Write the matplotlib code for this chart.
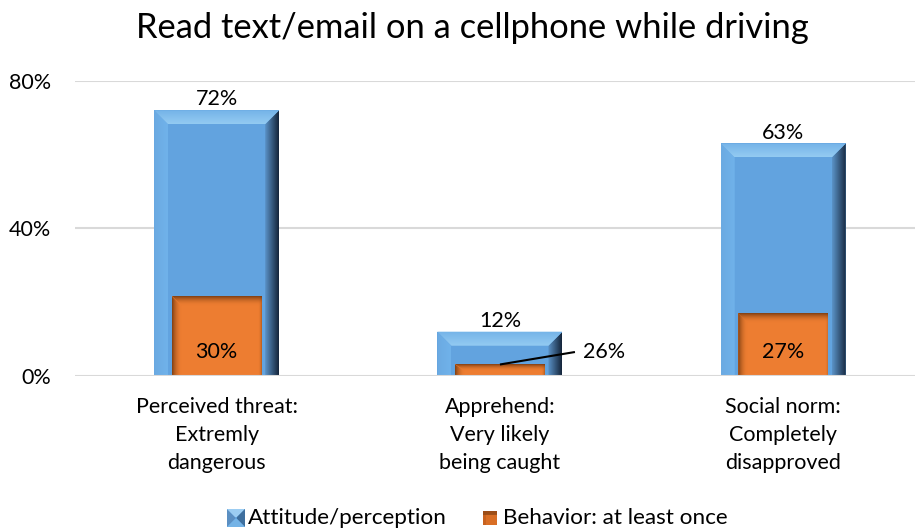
import matplotlib
matplotlib.use("Agg")
import matplotlib.pyplot as plt
import numpy as np
from matplotlib.patches import Polygon, Rectangle
from matplotlib.colors import to_rgba

# ---- data ----
categories = ["Perceived threat:\nExtremly\ndangerous",
              "Apprehend:\nVery likely\nbeing caught",
              "Social norm:\nCompletely\ndisapproved"]
attitude = [72, 12, 63]          # % attitude/perception
behavior = [30, 26, 27]          # % behavior among those (share of the attitude bar)
yticks = [0, 40, 80]
ytick_labels = ["0%", "40%", "80%"]
series_names = ["Attitude/perception", "Behavior: at least once"]
title = "Read text/email on a cellphone while driving"

plt.rcParams['font.family'] = ['Lato', 'DejaVu Sans']

W, H = 915, 531
fig = plt.figure(figsize=(W / 100, H / 100), dpi=100)
fig.patch.set_facecolor("white")

# plot area in pixels
left_px, right_px, bottom_px, top_px = 75, 915, 376, 80.7
cat_px = 283.3
ax = fig.add_axes([left_px / W, (H - bottom_px) / H,
                   (right_px - left_px) / W, (bottom_px - top_px) / H])
xmin, xmax = -0.5, -0.5 + (right_px - left_px) / cat_px
ymin, ymax = 0, 80

px_x = (xmax - xmin) / (right_px - left_px)
px_y = (ymax - ymin) / (bottom_px - top_px)


def grad_fill(a, poly_pts, x0, x1, y0, y1, c0, c1, horizontal, z):
    """Linear gradient from c0 to c1 clipped to a polygon."""
    n = 64
    t = np.linspace(0, 1, n)
    c0 = np.array(to_rgba(c0))
    c1 = np.array(to_rgba(c1))
    cols = c0[None, :] * (1 - t[:, None]) + c1[None, :] * t[:, None]
    if horizontal:
        img = cols[None, :, :]
        origin = "upper"
    else:
        img = cols[:, None, :]
        origin = "lower"
    im = a.imshow(img, extent=[x0, x1, y0, y1], origin=origin,
                  aspect="auto", zorder=z, interpolation="bilinear")
    clip = Polygon(poly_pts, closed=True, transform=a.transData,
                   facecolor="none", edgecolor="none")
    a.add_patch(clip)
    im.set_clip_path(clip)
    return im


def blue_bevel(a, x0, x1, y0, y1, bx, by, z=2):
    # body
    a.add_patch(Rectangle((x0, y0), x1 - x0, y1 - y0, facecolor="#62A3DF",
                          edgecolor="none", zorder=z))
    # left bevel, slightly lighter than the body
    grad_fill(a, [(x0, y0), (x0, y1), (x0 + bx, y1 - by), (x0 + bx, y0)],
              x0, x0 + bx, y0, y1, "#6BAAE2", "#70B2EA", True, z + 0.15)
    # right bevel: darkens towards the outer edge
    grad_fill(a, [(x1, y0), (x1, y1), (x1 - bx, y1 - by), (x1 - bx, y0)],
              x1 - bx, x1, y0, y1, "#5B93C8", "#14243A", True, z + 0.2)
    # top bevel: light
    grad_fill(a, [(x0, y1), (x1, y1), (x1 - bx, y1 - by), (x0 + bx, y1 - by)],
              x0, x1, y1 - by, y1, "#94CBF2", "#74B3E8", False, z + 0.3)


def orange_inset(a, x0, x1, y0, y1, sx, sy, z=3):
    a.add_patch(Rectangle((x0, y0), x1 - x0, y1 - y0, facecolor="#ED7D31",
                          edgecolor="none", zorder=z))
    sy_eff = min(sy, (y1 - y0) * 0.6)
    # inner shadow along the left and top edges
    grad_fill(a, [(x0, y0), (x0, y1), (x0 + sx, y1 - sy_eff), (x0 + sx, y0)],
              x0, x0 + sx, y0, y1, (0.45, 0.22, 0.06, 0.9), (0.93, 0.49, 0.19, 0.0),
              True, z + 0.1)
    grad_fill(a, [(x0, y1), (x1, y1), (x1, y1 - sy_eff), (x0 + sx, y1 - sy_eff)],
              x0, x1, y1 - sy_eff, y1, (0.93, 0.49, 0.19, 0.0), (0.45, 0.22, 0.06, 0.9),
              False, z + 0.2)
    # thin shade on the right edge
    rx = sx * 0.35
    grad_fill(a, [(x1 - rx, y0), (x1 - rx, y1), (x1, y1), (x1, y0)],
              x1 - rx, x1, y0, y1, (0.93, 0.49, 0.19, 0.0), (0.55, 0.28, 0.08, 0.6),
              True, z + 0.15)


# gridlines
for yt in yticks:
    ax.axhline(yt, color="#D9D9D9", lw=1.5, zorder=5 if yt == 0 else 1)

blue_w = 125 / cat_px
orange_w = 90 / cat_px
bx, by = 14 * px_x, 14 * px_y
x = np.arange(len(categories))

# bars (registered with the axes as bar containers, then styled)
blue_bars = ax.bar(x, attitude, width=blue_w, color="none", zorder=2)
orange_h = [a_ * b_ / 100 for a_, b_ in zip(attitude, behavior)]
orange_bars = ax.bar(x, orange_h, width=orange_w, color="none", zorder=3)

for rect in blue_bars:
    x0, y0 = rect.get_x(), rect.get_y()
    blue_bevel(ax, x0, x0 + rect.get_width(), y0, y0 + rect.get_height(), bx, by)
for rect in orange_bars:
    x0, y0 = rect.get_x(), rect.get_y()
    orange_inset(ax, x0, x0 + rect.get_width(), y0, y0 + rect.get_height(),
                 10 * px_x, 10 * px_y)

# value labels
lab_fs = 15.5
for xi, v in zip(x, attitude):
    ax.text(xi, v + 0.2, f"{v}%", ha="center", va="bottom", fontsize=lab_fs,
            color="black", zorder=10)
for xi, v, h in zip(x, behavior, orange_h):
    if h > 10:
        ax.text(xi, 6.5, f"{v}%", ha="center", va="center", fontsize=lab_fs,
                color="black", zorder=10)
    else:
        lx, ly = xi + 75 * px_x, 6.5
        ax.plot([xi, lx], [h, ly], color="black", lw=1.5, zorder=10,
                solid_capstyle="butt")
        ax.text(lx + 8 * px_x, ly, f"{v}%", ha="left", va="center",
                fontsize=lab_fs, color="black", zorder=10)

ax.set_xlim(xmin, xmax)
ax.set_ylim(ymin, ymax)
ax.set_yticks(yticks)
ax.set_yticklabels(ytick_labels, fontsize=15.5)
ax.set_xticks(x)
ax.set_xticklabels(categories, fontsize=15.5, linespacing=1.5, va="top")
ax.tick_params(axis="both", length=0)
ax.tick_params(axis="y", pad=17)
ax.tick_params(axis="x", pad=15)
for s in ax.spines.values():
    s.set_visible(False)
ax.set_facecolor("white")

fig.text(472 / W, 1 - 28 / H, title, ha="center", va="center", fontsize=24.8)

# legend
def legend_icon(px0, py0, size, kind):
    ia = fig.add_axes([px0 / W, 1 - (py0 + size) / H, size / W, size / H])
    ia.set_xlim(0, 1)
    ia.set_ylim(0, 1)
    ia.axis("off")
    if kind == "blue":
        b = 0.45
        ia.add_patch(Rectangle((0, 0), 1, 1, facecolor="#62A3DF", edgecolor="none"))
        ia.add_patch(Polygon([(0, 0), (0, 1), (b, 1 - b), (b, b)], facecolor="#5B8FC2", edgecolor="none"))
        ia.add_patch(Polygon([(0, 1), (1, 1), (1 - b, 1 - b), (b, 1 - b)], facecolor="#9CCDF2", edgecolor="none"))
        ia.add_patch(Polygon([(1, 1), (1, 0), (1 - b, b), (1 - b, 1 - b)], facecolor="#3E6F9E", edgecolor="none"))
        ia.add_patch(Polygon([(0, 0), (1, 0), (1 - b, b), (b, b)], facecolor="#74B3E6", edgecolor="none"))
    else:
        ia.add_patch(Rectangle((0, 0), 1, 1, facecolor="#C8621F", edgecolor="none"))
        ia.add_patch(Rectangle((0.2, 0), 0.8, 0.8, facecolor="#D96E25", edgecolor="none"))
        ia.add_patch(Polygon([(0, 1), (1, 1), (1, 0.75), (0, 0.75)], facecolor="#8A4515", edgecolor="none", alpha=0.7))


legend_icon(227, 509, 18, "blue")
fig.text(248 / W, 1 - 518 / H, series_names[0], ha="left", va="center", fontsize=16.2)
legend_icon(483, 511, 14, "orange")
fig.text(503 / W, 1 - 518 / H, series_names[1], ha="left", va="center", fontsize=16.2)

fig.savefig("out.png", dpi=100, facecolor="white")
